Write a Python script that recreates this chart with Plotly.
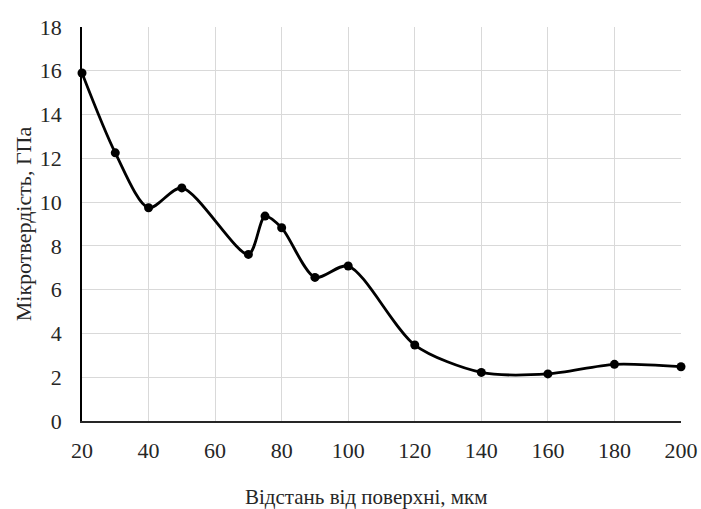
import plotly.graph_objects as go

distance_um = [20, 30, 40, 50, 70, 75, 80, 90, 100, 120, 140, 160, 180, 200]
microhardness_gpa = [15.9, 12.25, 9.74, 10.65, 7.61, 9.36, 8.83, 6.56, 7.08, 3.47, 2.22, 2.15, 2.59, 2.48]

x_ticks = [20, 40, 60, 80, 100, 120, 140, 160, 180, 200]
y_ticks = [0, 2, 4, 6, 8, 10, 12, 14, 16, 18]

x_title = "Відстань від поверхні, мкм"
y_title = "Мікротвердість, ГПа"

font_family = "Liberation Serif, Times New Roman, serif"
txt_color = "#262626"

fig = go.Figure()
fig.add_trace(go.Scatter(
    x=distance_um, y=microhardness_gpa,
    mode="lines+markers",
    line=dict(color="black", width=2.8, shape="spline", smoothing=0.8),
    marker=dict(color="black", size=9),
    showlegend=False,
    cliponaxis=False,
))

fig.add_annotation(
    text=x_title, xref="paper", yref="paper", x=0.475, y=0,
    xanchor="center", yanchor="middle", yshift=-76, showarrow=False,
    font=dict(family=font_family, size=21, color=txt_color),
)

fig.update_layout(
    width=701, height=509,
    margin=dict(l=81.5, r=19.5, t=27, b=88),
    paper_bgcolor="white", plot_bgcolor="white",
    font=dict(family=font_family, size=22, color=txt_color),
    xaxis=dict(
        range=[20, 200], tickvals=x_ticks, ticktext=[str(v) for v in x_ticks],
        showgrid=True, gridcolor="#d9d9d9", gridwidth=1,
        showline=True, linecolor="#262626", linewidth=1.5,
        zeroline=False, ticks="", ticklen=0, automargin=False,
        ticklabelstandoff=9,
        tickfont=dict(family=font_family, size=22, color=txt_color),
    ),
    yaxis=dict(
        range=[0, 18], tickvals=y_ticks, ticktext=[str(v) for v in y_ticks],
        showgrid=True, gridcolor="#d9d9d9", gridwidth=1,
        showline=True, linecolor="black", linewidth=1.5,
        zeroline=False, ticks="", ticklen=0, automargin=False,
        ticklabelstandoff=14,
        title=dict(text=y_title, standoff=2,
                   font=dict(family=font_family, size=22, color=txt_color)),
        tickfont=dict(family=font_family, size=22, color=txt_color),
    ),
)

fig.write_html("out.html", config={"displayModeBar": False},
               post_script="document.body.style.margin='0';")
